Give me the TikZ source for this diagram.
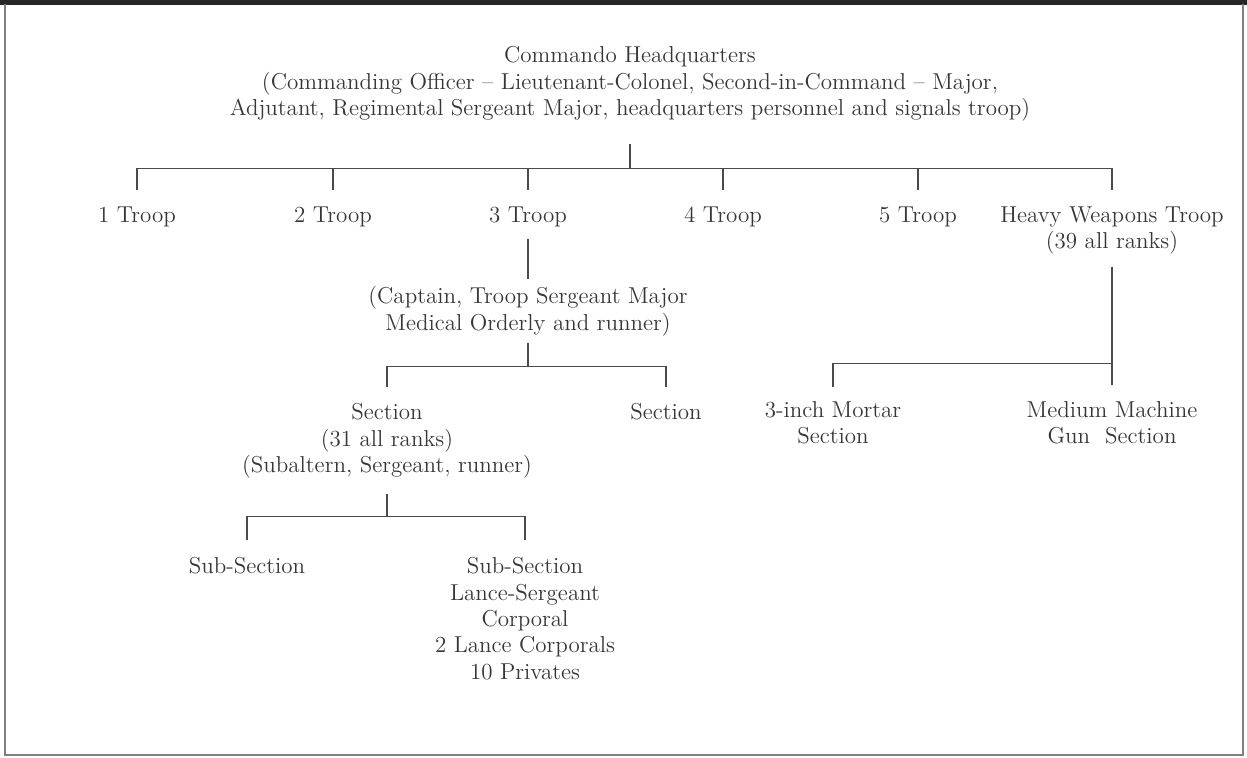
\documentclass[tikz,border=0pt]{standalone}
\usepackage{tikz}
\usetikzlibrary{positioning,calc}
\definecolor{ink}{HTML}{363636}
\definecolor{rule}{HTML}{4A4A4A}
\tikzset{
  unit/.style  = {align=center, inner sep=0pt, anchor=north, text=ink,
                  font=\fontsize{11.5}{13.2}\selectfont},
  link/.style  = {draw=rule, line width=0.6pt},
  frame/.style = {draw=black!50, line width=0.6pt},
}

\begin{document}
\begin{tikzpicture}[x=0.5pt, y=-0.5pt]
  \useasboundingbox (0,0) rectangle (1247,757);
  \fill[black!85] (0,0) rectangle (1247,5);
  \draw[frame] (5,4) -- (5,755) -- (1243,755) -- (1243,4);

  \node[unit] (hq) at (630,46) {Commando Headquarters\\ (Commanding Officer -- Lieutenant-Colonel, Second-in-Command -- Major,\\ Adjutant, Regimental Sergeant Major, headquarters personnel and signals troop)};

  \node[unit] (t1) at (137,206) {1 Troop};
  \node[unit] (t2) at (333,206) {2 Troop};
  \node[unit] (t3) at (528,206) {3 Troop};
  \node[unit] (t4) at (723,206) {4 Troop};
  \node[unit] (t5) at (918,206) {5 Troop};
  \node[unit] (hw) at (1112,206) {Heavy Weapons Troop\\ (39 all ranks)};

  \node[unit] (cap) at (528,286) {(Captain, Troop Sergeant Major\\ Medical Orderly and runner)};
  \node[unit] (s1) at (387,403) {Section\\ (31 all ranks)\\ (Subaltern, Sergeant, runner)};
  \node[unit] (s2) at (666,403) {Section};
  \node[unit] (ss1) at (247,557) {Sub-Section};
  \node[unit] (ss2) at (525,557) {Sub-Section\\ Lance-Sergeant\\ Corporal\\ 2 Lance Corporals\\ 10 Privates};

  \node[unit] (mort) at (833,401) {3-inch Mortar\\ Section};
  \node[unit] (mmg) at (1112,401) {Medium Machine\\ Gun\ \ Section};

  \draw[link] (hq.south) ++(0,22) -- ++(0,25) coordinate (hqj);
  \foreach \t in {t1,t2,t3,t4,t5,hw}
    \draw[link] (\t.north) ++(0,-16) |- (hqj);

  \draw[link, shorten <=5.9pt, shorten >=3.5pt] (t3.south) -- (cap.north);
  \draw[link] (cap.south) ++(0,7) -- ++(0,23) coordinate (capj);
  \foreach \t in {s1,s2}
    \draw[link] (\t.north) ++(0,-16) |- (capj);

  \draw[link] (s1.south) ++(0,15) -- ++(0,23) coordinate (secj);
  \foreach \t in {ss1,ss2}
    \draw[link] (\t.north) ++(0,-17) |- (secj);

  \draw[link, shorten <=6pt, shorten >=8pt] (hw.south) -- (mmg.north);
  \path (hw.south) ++(0,109) coordinate (hwj);
  \draw[link] (mort.north) ++(0,-14) |- (hwj);
\end{tikzpicture}
\end{document}
